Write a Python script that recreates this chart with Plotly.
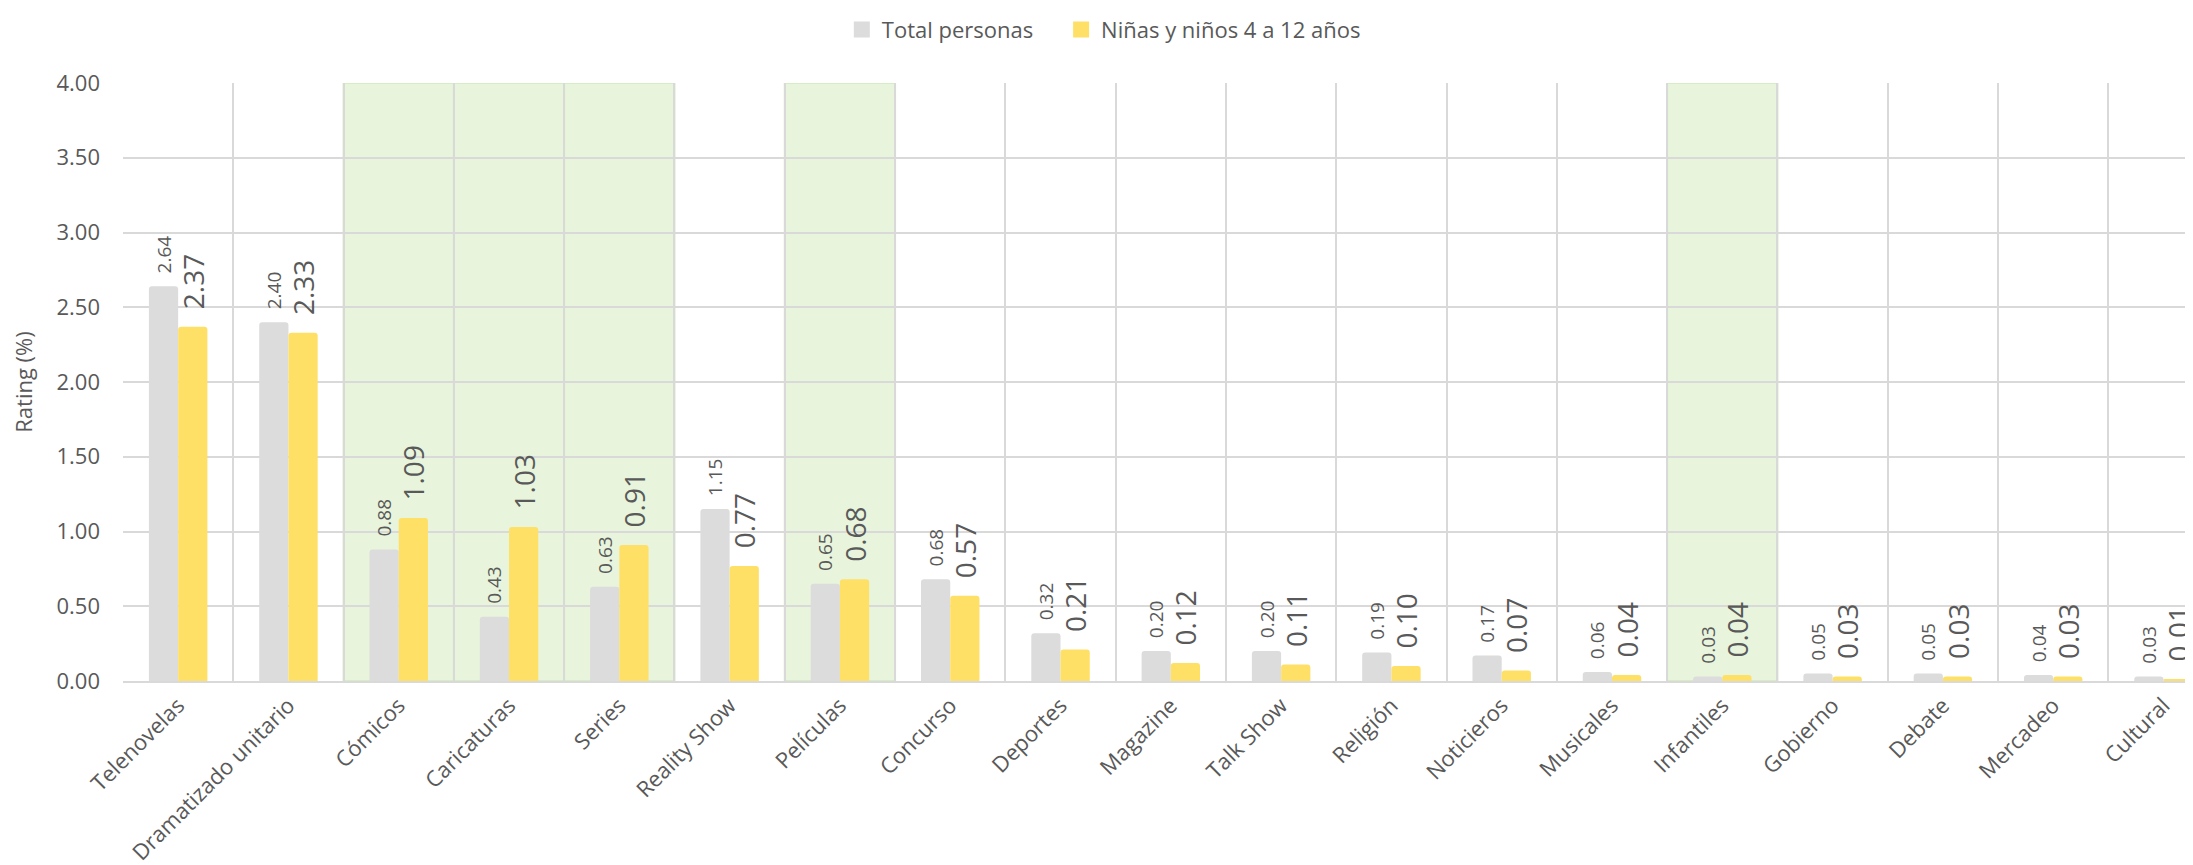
import plotly.graph_objects as go

categories = ["Telenovelas", "Dramatizado unitario", "Cómicos", "Caricaturas", "Series",
              "Reality Show", "Películas", "Concurso", "Deportes", "Magazine", "Talk Show",
              "Religión", "Noticieros", "Musicales", "Infantiles", "Gobierno", "Debate",
              "Mercadeo", "Cultural"]
total_personas = [2.64, 2.40, 0.88, 0.43, 0.63, 1.15, 0.65, 0.68, 0.32, 0.20, 0.20,
                  0.19, 0.17, 0.06, 0.03, 0.05, 0.05, 0.04, 0.03]
ninos = [2.37, 2.33, 1.09, 1.03, 0.91, 0.77, 0.68, 0.57, 0.21, 0.12, 0.11,
         0.10, 0.07, 0.04, 0.04, 0.03, 0.03, 0.03, 0.01]
highlighted = ["Cómicos", "Caricaturas", "Series", "Películas", "Infantiles"]
y_ticks = [0, 0.5, 1.0, 1.5, 2.0, 2.5, 3.0, 3.5, 4.0]
series_names = ["Total personas", "Niñas y niños 4 a 12 años"]
series_colors = ["#DCDCDC", "#FFE066"]

FONT = "Open Sans"
TXT = "#595959"
NB = "\u00a0"

fig = go.Figure()
fig.add_trace(go.Bar(
    name=series_names[0], x=categories, y=total_personas, showlegend=False,
    marker=dict(color=series_colors[0], line=dict(width=0)),
    texttemplate=NB * 2 + "%{y:.2f}",
    textposition="outside", textangle=-90, constraintext="none", cliponaxis=False,
    textfont=dict(family=FONT, size=19, color=TXT),
))
fig.add_trace(go.Bar(
    name=series_names[1], x=categories, y=ninos, showlegend=False,
    marker=dict(color=series_colors[1], line=dict(width=0)),
    texttemplate=NB * 2 + "%{y:.2f}",
    textposition="outside", textangle=-90, constraintext="none", cliponaxis=False,
    textfont=dict(family=FONT, size=28, color=TXT),
))
# legend entries with larger square swatches
legend_labels = [series_names[0] + NB * 4, series_names[1]]
for name, col in zip(legend_labels, series_colors):
    fig.add_trace(go.Scatter(
        x=[None], y=[None], mode="markers", name=name,
        marker=dict(symbol="square", size=18, color=col, line=dict(width=0)),
    ))

for c in highlighted:
    i = categories.index(c)
    fig.add_shape(type="rect", xref="x", yref="y", x0=i - 0.5, x1=i + 0.5, y0=0, y1=4,
                  fillcolor="#E8F5DC", line=dict(color="#D6ECC4", width=2), layer="below")

fig.update_layout(
    width=2193, height=865,
    margin=dict(l=115, r=0, t=75, b=192),
    paper_bgcolor="white", plot_bgcolor="white",
    barmode="group", bargap=0.47, bargroupgap=0, barcornerradius=3,
    font=dict(family=FONT, color=TXT),
    legend=dict(orientation="h", x=0.472, xanchor="center", y=1.089, yanchor="middle",
                font=dict(family=FONT, size=22, color=TXT), traceorder="normal",
                itemwidth=30),
    showlegend=True,
)
fig.update_xaxes(
    type="category", range=[-0.5, 18.34], tickson="boundaries",
    showgrid=True, gridcolor="#D9D9D9", gridwidth=2,
    showline=True, linecolor="#D9D9D9", linewidth=2,
    ticks="", tickangle=-45, ticklabelstandoff=1,
    tickfont=dict(family=FONT, size=22, color=TXT),
)
fig.update_yaxes(
    range=[0, 4], tickvals=y_ticks, tickformat=".2f",
    showgrid=True, gridcolor="#D9D9D9", gridwidth=2, zeroline=False,
    showline=False, ticks="", ticklabelstandoff=22,
    tickfont=dict(family=FONT, size=22, color=TXT),
    title=dict(text="Rating (%)", font=dict(family=FONT, size=22, color=TXT), standoff=20),
)

fig.write_html("out.html")
